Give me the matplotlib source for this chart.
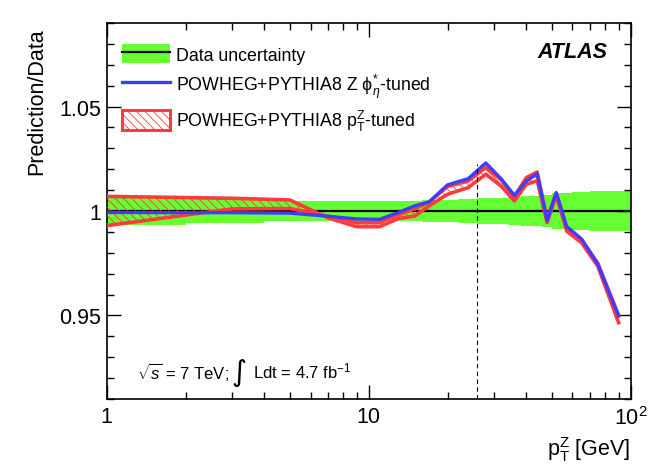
import numpy as np
import matplotlib
matplotlib.use('agg')
import matplotlib.pyplot as plt
from matplotlib.patches import Patch
from matplotlib.lines import Line2D
from matplotlib.ticker import FixedLocator, FixedFormatter, LogLocator, MultipleLocator, NullFormatter

plt.rcParams['font.family'] = ['Liberation Sans', 'DejaVu Sans']
plt.rcParams['mathtext.fontset'] = 'custom'
plt.rcParams['mathtext.rm'] = 'Liberation Sans'
plt.rcParams['mathtext.it'] = 'Liberation Sans:italic'
plt.rcParams['mathtext.bf'] = 'Liberation Sans:bold'
plt.rcParams['hatch.linewidth'] = 0.6

# data uncertainty per pT bin (half width of the ratio band)
bin_edges = [0, 2, 4, 6, 8, 10, 12, 14, 16, 18, 22, 26, 30, 34, 38, 42, 46, 50, 54, 60, 70, 80, 100]
data_unc = [0.0065, 0.0058, 0.0050, 0.0047, 0.0046, 0.0046, 0.0048, 0.0050, 0.0052, 0.0055, 0.0058,
            0.0062, 0.0064, 0.0066, 0.0070, 0.0074, 0.0078, 0.0084, 0.0088, 0.0092, 0.0095, 0.0096]

# bin centres used for the predictions
pt = [1, 3, 5, 7, 9, 11, 13, 15, 17, 20, 24, 28, 32, 36, 40, 44, 48, 52, 57, 65, 75, 90]
phistar_tuned = [0.9993, 0.9992, 0.9990, 0.9975, 0.9962, 0.9960, 0.9993, 1.0025, 1.0043, 1.0125, 1.0155,
                 1.0230, 1.0155, 1.0075, 1.0144, 1.0178, 0.9955, 1.0088, 0.9926, 0.9866, 0.9744, 0.9497]
ptz_edge_a = [1.0070, 1.0061, 1.0053, 0.9967, 0.9925, 0.9925, 0.9964, 0.9976, 1.0024, 1.0080, 1.0112,
              1.0176, 1.0120, 1.0048, 1.0128, 1.0145, 0.9944, 1.0075, 0.9904, 0.9848, 0.9735, 0.9465]
ptz_edge_b = [0.9930, 1.0010, 1.0012, 0.9975, 0.9944, 0.9944, 0.9983, 1.0010, 1.0043, 1.0117, 1.0144,
              1.0208, 1.0150, 1.0069, 1.0160, 1.0187, 0.9960, 1.0085, 0.9920, 0.9862, 0.9750, 0.9500]

green = '#66ff33'
blue = '#3d3dff'
red = '#ff3b3b'

fig = plt.figure(figsize=(6.64, 4.77), dpi=100)
ax = fig.add_axes([0.1607, 0.1614, 0.7890, 0.7883])

xmin, xmax = 1, 100
edges = np.maximum(np.array(bin_edges, dtype=float), xmin)
unc = np.append(data_unc, data_unc[-1])
ax.fill_between(edges, 1 - unc, 1 + unc, step='post', color=green, lw=0, zorder=1)
ax.axhline(1, color='black', lw=1.6, zorder=2)

ax.fill_between(pt, ptz_edge_a, ptz_edge_b, facecolor='none', edgecolor=red, hatch='\\\\\\\\', lw=0, zorder=3)
ax.plot(pt, ptz_edge_a, color=red, lw=2.6, zorder=4)
ax.plot(pt, ptz_edge_b, color=red, lw=2.6, zorder=4)
ax.plot(pt, phistar_tuned, color=blue, lw=2.4, zorder=5)

ax.plot([26, 26], [0.91, 1.0224], color='black', lw=0.8, ls=(0, (4, 3)), zorder=6)

ax.set_xscale('log')
ax.set_xlim(xmin, xmax)
ax.set_ylim(0.91, 1.09)

ax.xaxis.set_major_locator(FixedLocator([1, 10, 100]))
ax.xaxis.set_major_formatter(FixedFormatter(['1', '10', '$10^2$']))
ax.xaxis.set_minor_locator(LogLocator(base=10, subs=np.arange(2, 10)))
ax.xaxis.set_minor_formatter(NullFormatter())
ax.yaxis.set_major_locator(FixedLocator([0.95, 1.0, 1.05]))
ax.yaxis.set_major_formatter(FixedFormatter(['0.95', '1', '1.05']))
ax.yaxis.set_minor_locator(MultipleLocator(0.01))

ax.tick_params(which='both', direction='in', top=True, right=True, width=1.0, labelsize=15.5)
ax.tick_params(which='major', length=10)
ax.tick_params(axis='x', which='major', pad=5)
ax.tick_params(axis='y', which='major', pad=4)
ax.tick_params(which='minor', length=5)
for s in ax.spines.values():
    s.set_linewidth(1.2)

fig.text(37 / 664, 1 - 28 / 477, 'Prediction/Data', rotation=90, ha='center', va='top', fontsize=15.5)
ax.set_xlabel(r'$\mathrm{p}_{\mathrm{T}}^{\mathrm{Z}}$ [GeV]', fontsize=15.5, loc='right', labelpad=4)

handles = [
    (Patch(facecolor=green, edgecolor='none'), Line2D([], [], color='black', lw=1.6)),
    Line2D([], [], color=blue, lw=2.4),
    Patch(facecolor='white', edgecolor=red, hatch='\\\\\\\\', lw=2.2),
]
labels = ['Data uncertainty',
          r'POWHEG+PYTHIA8 Z ϕ$_{\eta}^{*}$-tuned',
          r'POWHEG+PYTHIA8 $\mathrm{p}_{\mathrm{T}}^{\mathrm{Z}}$-tuned']
ax.legend(handles, labels, loc='upper left', bbox_to_anchor=(0.012, 0.968), frameon=False,
          fontsize=12.8, borderpad=0, handlelength=2.7, handleheight=1.3, labelspacing=0.45,
          handletextpad=0.35)

ax.text(0.955, 0.925, 'ATLAS', transform=ax.transAxes, ha='right', va='center',
        fontsize=15.5, fontweight='bold', fontstyle='italic')
ax.text(0.057, 0.075, r'$\sqrt{s}$ = 7 TeV;', transform=ax.transAxes,
        ha='left', va='center', fontsize=12)
ax.text(0.238, 0.072, '∫', transform=ax.transAxes, ha='left', va='center', fontsize=21,
        family='DejaVu Sans')
ax.text(0.279, 0.075, r'Ldt = 4.7 fb$^{-1}$', transform=ax.transAxes,
        ha='left', va='center', fontsize=12)

fig.savefig('out.png', dpi=100)
